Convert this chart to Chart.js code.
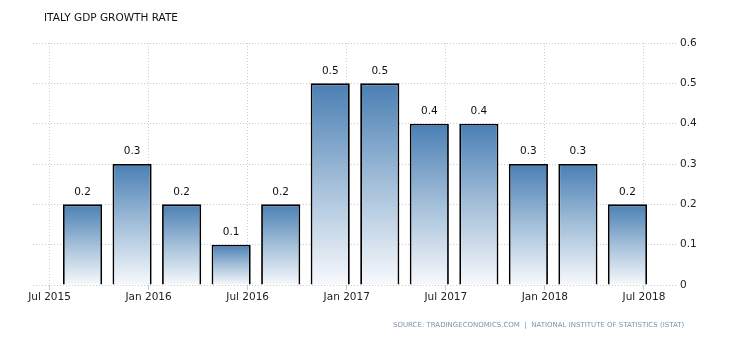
<!DOCTYPE html>
<html>
<head>
<meta charset="utf-8">
<script src="https://cdn.jsdelivr.net/npm/chart.js@4"></script>
<style>
  body { margin: 0; background: #fff; }
  #wrap { position: relative; width: 730px; height: 340px; }
  #title { position: absolute; left: 44px; top: 11px; font: 10.5px "DejaVu Sans", sans-serif; color: #111; white-space: nowrap; }
  #source { position: absolute; left: 393px; top: 321px; font: 7px "DejaVu Sans", sans-serif; color: #7d93ad; white-space: nowrap; }
</style>
</head>
<body>
<div id="wrap">
  <canvas id="chart" width="730" height="340"></canvas>
  <div id="title">ITALY GDP GROWTH RATE</div>
  <div id="source">SOURCE: TRADINGECONOMICS.COM &nbsp;|&nbsp; NATIONAL INSTITUTE OF STATISTICS (ISTAT)</div>
</div>
<script>
// quarters, plotted at the last month of each quarter (months counted from Jan 2015 = 0)
const quarters = ['Q3 2015', 'Q4 2015', 'Q1 2016', 'Q2 2016', 'Q3 2016', 'Q4 2016',
                  'Q1 2017', 'Q2 2017', 'Q3 2017', 'Q4 2017', 'Q1 2018', 'Q2 2018'];
const months = [8, 11, 14, 17, 20, 23, 26, 29, 32, 35, 38, 41];
const growth = [0.2, 0.3, 0.2, 0.1, 0.2, 0.5, 0.5, 0.4, 0.4, 0.3, 0.3, 0.2];

const tickMonths = [6, 12, 18, 24, 30, 36, 42];
const tickLabels = ['Jul 2015', 'Jan 2016', 'Jul 2016', 'Jan 2017', 'Jul 2017', 'Jan 2018', 'Jul 2018'];

const gridColor = '#cccccc';

const valueLabels = {
  id: 'valueLabels',
  afterDatasetsDraw(chart) {
    const ctx = chart.ctx;
    const meta = chart.getDatasetMeta(0);
    ctx.save();
    ctx.font = '10.5px "DejaVu Sans", sans-serif';
    ctx.fillStyle = '#111';
    ctx.textAlign = 'center';
    ctx.textBaseline = 'bottom';
    meta.data.forEach((bar, i) => {
      ctx.fillText(growth[i].toFixed(1), bar.x, bar.y - 7);
    });
    ctx.restore();
  }
};

function barGradient(context) {
  const chart = context.chart;
  const y = chart.scales.y;
  if (!y || !chart.chartArea || context.parsed === undefined) return '#4a80b5';
  const top = y.getPixelForValue(context.parsed.y);
  const base = y.getPixelForValue(0);
  const g = chart.ctx.createLinearGradient(0, top, 0, base);
  g.addColorStop(0, '#4a7fb4');
  g.addColorStop(0.5, '#a3bfd9');
  g.addColorStop(1, '#f7f9fc');
  return g;
}

new Chart(document.getElementById('chart'), {
  type: 'bar',
  data: {
    labels: quarters,
    datasets: [{
      label: 'GDP Growth Rate',
      data: months.map((m, i) => ({ x: m, y: growth[i] })),
      backgroundColor: barGradient,
      borderColor: '#000',
      borderWidth: 1.8,
      barPercentage: 0.79,
      categoryPercentage: 1
    }]
  },
  options: {
    responsive: false,
    animation: false,
    layout: { padding: { left: 33, top: 43, right: 0, bottom: 0 } },
    plugins: { legend: { display: false }, tooltip: { enabled: false } },
    scales: {
      x: {
        type: 'linear',
        min: 5,
        max: 44,
        offset: false,
        afterBuildTicks: scale => { scale.ticks = tickMonths.map(v => ({ value: v })); },
        afterFit: scale => { scale.height = 55; },
        border: { display: false, dash: [1, 2] },
        grid: { color: gridColor, offset: false, tickLength: 5, drawTicks: true },
        ticks: {
          callback: v => tickLabels[tickMonths.indexOf(v)],
          color: '#222',
          font: { family: 'DejaVu Sans', size: 10.5 },
          padding: 1,
          maxRotation: 0,
          autoSkip: false
        }
      },
      y: {
        position: 'right',
        min: 0,
        max: 0.6,
        afterFit: scale => { scale.width = 53; },
        border: { display: false, dash: [1, 2] },
        grid: { color: gridColor, drawTicks: false },
        ticks: {
          stepSize: 0.1,
          callback: v => String(Math.round(v * 10) / 10),
          color: '#222',
          font: { family: 'DejaVu Sans', size: 10.5 },
          padding: 3
        }
      }
    }
  },
  plugins: [valueLabels]
});
</script>
</body>
</html>
